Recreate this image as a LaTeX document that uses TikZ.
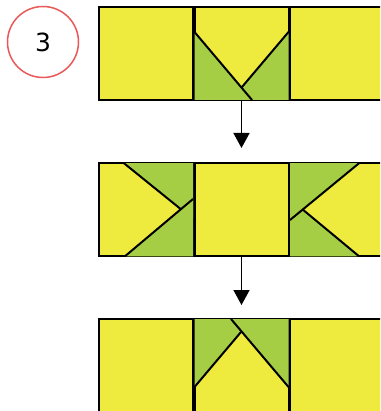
\documentclass[tikz,border=0pt]{standalone}
\usepackage{fontspec}
\setmainfont{DejaVu Sans}
\usetikzlibrary{positioning,arrows.meta}
\definecolor{cell_yellow}{RGB}{238,234,62}
\definecolor{leaf_green}{RGB}{166,206,69}
\definecolor{ring_red}{RGB}{234,88,88}

\begin{document}
\begin{tikzpicture}[x=1pt,y=-1pt,
	cell/.style={rectangle,draw=black,fill=cell_yellow,line width=2pt,minimum width=94pt,minimum height=93pt,inner sep=0pt,outer sep=0pt},
	flap/.style={fill=leaf_green},
	crease/.style={black,line width=2pt},
	flow/.style={black,line width=1.5pt,-{Triangle[width=16pt,length=15pt]}}]
	\useasboundingbox (0,0) rectangle (380,411);
	\clip (0,0) rectangle (380,411);

	\node[circle,draw=ring_red,line width=1.5pt,minimum size=71pt,inner sep=0pt] (num) at (43,42) {\fontsize{25}{30}\selectfont 3};

	% three strips of cells
	\foreach \row/\y in {1/53.5,2/209.75,3/365.5} {
		\node[cell] (r\row l) at (146,\y) {};
		\node[cell,right=1.5pt of r\row l] (r\row m) {};
		\node[cell,right=1.5pt of r\row m] (r\row r) {};
	}

	% strip 1
	\fill[flap] (288.5,32) -- (288.5,100) -- (231,100) -- cycle;
	\draw[crease] (288.5,32) -- (231,100);
	\fill[flap] (194.5,32) -- (194.5,100) -- (252,100) -- cycle;
	\draw[crease] (194.5,32) -- (252,100);

	% strip 2
	\fill[flap] (193,163.25) -- (124,163.25) -- (193,219) -- cycle;
	\draw[crease] (124,163.25) -- (193,219);
	\fill[flap] (193,256.25) -- (125,256.25) -- (193,199) -- cycle;
	\draw[crease] (125,256.25) -- (193,199);
	\fill[flap] (290,256.25) -- (359,256.25) -- (290,199) -- cycle;
	\draw[crease] (359,256.25) -- (290,199);
	\fill[flap] (290,163.25) -- (359,163.25) -- (290,220) -- cycle;
	\draw[crease] (359,163.25) -- (290,220);

	% strip 3
	\fill[flap] (194.5,319) -- (194.5,387) -- (252,319) -- cycle;
	\draw[crease] (194.5,387) -- (252,319);
	\fill[flap] (288.5,319) -- (288.5,387) -- (231,319) -- cycle;
	\draw[crease] (288.5,387) -- (231,319);

	\coordinate (a1) at (241.5,148);
	\coordinate (a2) at (241.5,305);
	\draw[flow] (r1m.south) -- (a1);
	\draw[flow] (r2m.south) -- (a2);
\end{tikzpicture}
\end{document}
